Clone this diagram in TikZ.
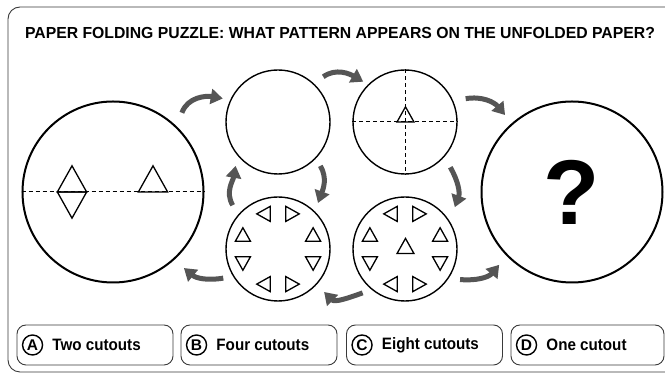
\documentclass[tikz,border=0pt]{standalone}
\usepackage{fontspec}
\usepackage{graphicx}
\setmainfont{Liberation Sans}
\usetikzlibrary{arrows.meta,calc,positioning}
\definecolor{arrowgray}{HTML}{555555}
\definecolor{framegray}{HTML}{3A3A3A}
\newcommand\narrowtext[2][0.92]{\scalebox{#1}[1]{#2}}
\tikzset{
  sheet/.style={draw,circle,inner sep=0pt,line width=1.4pt,minimum size=104pt},
  bigsheet/.style={sheet,line width=2pt,minimum size=181pt},
  foldline/.style={line width=1pt,dash pattern=on 4pt off 3pt},
  flow/.style={arrowgray,line width=5pt,-{Triangle[length=12pt,width=15pt]}},
  option/.style={draw=framegray,rounded corners=9pt,line width=0.9pt,minimum width=156pt,minimum height=40pt},
  badge/.style={draw,circle,line width=1.4pt,minimum size=20pt,inner sep=0pt,font=\bfseries\fontsize{15.5}{15.5}\selectfont},
  choice/.style={inner sep=0pt,font=\bfseries\fontsize{16.5}{18}\selectfont},
  cutout/.pic={\draw[line width=1.3pt,line join=miter] (-7.5,-6.7) -- (7.5,-6.7) -- (0,6.7) -- cycle;}
}

\begin{document}
\begin{tikzpicture}[x=1pt,y=1pt]
    \useasboundingbox (0,0) rectangle (665,374);
    % frame and title
    \draw[framegray,line width=0.9pt,rounded corners=12pt] (8,2) rectangle (690,367);
    \node[font=\bfseries\fontsize{16}{18}\selectfont] (title) at (340,341)
        {\narrowtext[0.985]{PAPER FOLDING PUZZLE: WHAT PATTERN APPEARS ON THE UNFOLDED PAPER?}};

    % sheets
    \node[bigsheet] (paper) at (113,182) {};
    \node[sheet] (fold1) at (278,252) {};
    \node[sheet] (fold2) at (405,252) {};
    \node[sheet] (cut8) at (278,125) {};
    \node[sheet] (cut9) at (405,125) {};
    \node[bigsheet] (answer) at (572,182) {};

    % unfolded paper
    \draw[foldline] (paper.west) -- (paper.east);
    \pic[scale=1.95] at ($(paper)+(-41,13.1)$) {cutout};
    \pic[scale=1.95,rotate=180] at ($(paper)+(-41,-13.1)$) {cutout};
    \pic[scale=1.95] at ($(paper)+(40,13.1)$) {cutout};

    % folded twice
    \draw[foldline] (fold2.west) -- (fold2.east);
    \draw[foldline] (fold2.north) -- (fold2.south);
    \pic[scale=1.13] at ($(fold2)+(0.5,7.6)$) {cutout};

    % cut rings
    \foreach \a/\r in {22.5/0,67.5/-90,112.5/90,157.5/0,202.5/180,247.5/90,292.5/-90,337.5/180}{
        \pic[rotate=\r] at ($(cut8)+(\a:38)$) {cutout};
        \pic[rotate=\r] at ($(cut9)+(\a:38)$) {cutout};
    }
    \pic[scale=1.13] at ($(cut9)+(0.5,3)$) {cutout};

    % answer
    \node[font=\fontsize{92}{92}\selectfont\bfseries] (qmark) at (answer) {?};

    % arrows
    \draw[flow] ($(paper)+(49:105)$) to[out=70,in=170] ($(fold1)+(157:60)$);
    \draw[flow] ($(fold1)+(45:64)$) to[out=35,in=150] ($(fold2)+(136:58)$);
    \draw[flow] ($(fold2)+(21:65)$) to[out=10,in=130] ($(answer)+(131:102)$);
    \draw[flow] ($(fold2)+(-45:64)$) to[out=-60,in=70] ($(cut9)+(40:65)$);
    \draw[flow] ($(cut9)+(-29:63)$) to[out=-5,in=-130] ($(answer)+(-135:103)$);
    \draw[flow] ($(cut9)+(-134:61)$) to[out=-160,in=-45] ($(cut8)+(-43:63)$);
    \draw[flow] ($(cut8)+(-152:62)$) to[out=-170,in=-40] ($(paper)+(-47:104)$);
    \draw[flow] ($(fold1)+(-46:61)$) to[out=-60,in=70] ($(cut8)+(49:61)$);
    \draw[flow] ($(cut8)+(136:63)$) to[out=120,in=-100] ($(fold1)+(-134:61)$);

    % options
    \node[option] (optA) at (95,29) {};
    \node[option] (optB) at (259,29) {};
    \node[option] (optC) at (424.5,29) {};
    \node[option,minimum width=153pt] (optD) at (587.5,29) {};
    \node[badge] (badgeA) at ([xshift=16pt]optA.west) {A};
    \node[badge] (badgeB) at ([xshift=16pt]optB.west) {B};
    \node[badge] (badgeC) at ([xshift=16pt]optC.west) {C};
    \node[badge] (badgeD) at ([xshift=16pt]optD.west) {D};
    \node[choice,right=9pt of badgeA] (textA) {\narrowtext{Two cutouts}};
    \node[choice,right=9pt of badgeB] (textB) {\narrowtext{Four cutouts}};
    \node[choice,right=9pt of badgeC] (textC) {\narrowtext{Eight cutouts}};
    \node[choice,right=9pt of badgeD] (textD) {\narrowtext{One cutout}};
\end{tikzpicture}
\end{document}
